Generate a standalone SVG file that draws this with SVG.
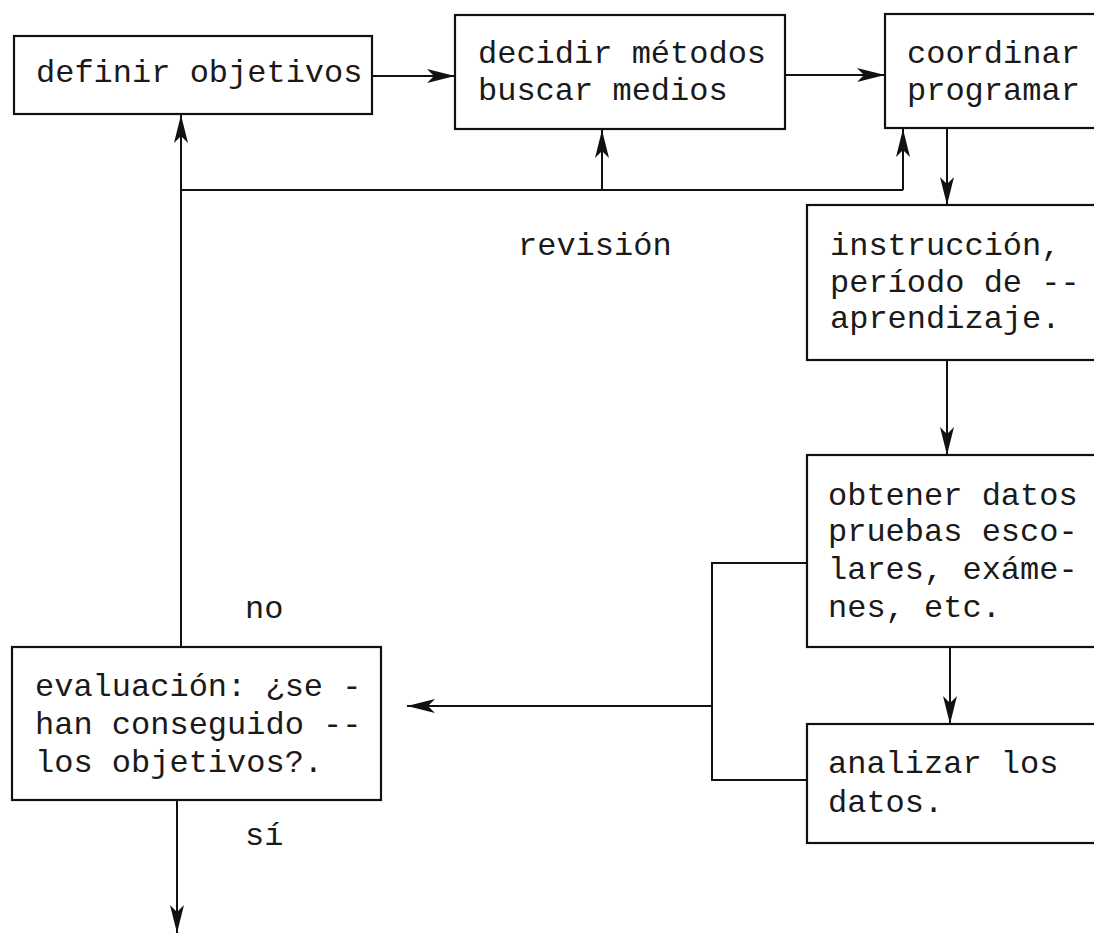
<svg xmlns="http://www.w3.org/2000/svg" width="1094" height="934" viewBox="0 0 1094 934">
<style>
.box{fill:none;stroke:#111;stroke-width:2.2}
.ln{fill:none;stroke:#111;stroke-width:2}
.t{font-family:"Liberation Mono","Courier New",monospace;font-size:32px;fill:#1a1a1a}
</style>
<defs>
<marker id="ah" markerUnits="userSpaceOnUse" markerWidth="30" markerHeight="14" refX="28" refY="7" orient="auto">
<path d="M0,0 L28,7 L0,14 L7,7 Z" fill="#111"/>
</marker>
</defs>
<rect width="1094" height="934" fill="#fff"/>
<g id="connectors">
<line class="ln" x1="372" y1="76" x2="455" y2="76" marker-end="url(#ah)"/>
<line class="ln" x1="785" y1="75" x2="885" y2="75" marker-end="url(#ah)"/>
<polyline class="ln" points="181,647 181,190 903,190"/>
<line class="ln" x1="181" y1="190" x2="181" y2="115" marker-end="url(#ah)"/>
<line class="ln" x1="602" y1="190" x2="602" y2="130" marker-end="url(#ah)"/>
<line class="ln" x1="903" y1="190" x2="903" y2="129" marker-end="url(#ah)"/>
<line class="ln" x1="947" y1="128" x2="947" y2="205" marker-end="url(#ah)"/>
<line class="ln" x1="947" y1="360" x2="947" y2="455" marker-end="url(#ah)"/>
<line class="ln" x1="950" y1="647" x2="950" y2="724" marker-end="url(#ah)"/>
<polyline class="ln" points="807,563 712,563 712,780 807,780"/>
<line class="ln" x1="712" y1="706" x2="407" y2="706" marker-end="url(#ah)"/>
<line class="ln" x1="177" y1="800" x2="177" y2="933" marker-end="url(#ah)"/>
</g>
<g id="definir">
<rect class="box" x="14" y="36" width="358" height="78"/>
<text class="t" x="36" y="82">definir objetivos</text>
</g>
<g id="decidir">
<rect class="box" x="455" y="15" width="330" height="114"/>
<text class="t" x="478" y="63">decidir métodos</text>
<text class="t" x="478" y="100">buscar medios</text>
</g>
<g id="coordinar">
<rect class="box" x="885" y="14" width="230" height="114"/>
<text class="t" x="907" y="63">coordinar</text>
<text class="t" x="907" y="100">programar</text>
</g>
<g id="revision">
<text class="t" x="518" y="255">revisión</text>
</g>
<g id="instruccion">
<rect class="box" x="807" y="205" width="310" height="155"/>
<text class="t" x="830" y="255">instrucción,</text>
<text class="t" x="830" y="292">período de --</text>
<text class="t" x="830" y="328">aprendizaje.</text>
</g>
<g id="obtener">
<rect class="box" x="807" y="455" width="310" height="192"/>
<text class="t" x="828" y="505">obtener datos</text>
<text class="t" x="828" y="541">pruebas esco-</text>
<text class="t" x="828" y="579">lares, exáme-</text>
<text class="t" x="828" y="617">nes, etc.</text>
</g>
<g id="analizar">
<rect class="box" x="807" y="724" width="310" height="119"/>
<text class="t" x="828" y="773">analizar los</text>
<text class="t" x="828" y="812">datos.</text>
</g>
<g id="evaluacion">
<rect class="box" x="12" y="647" width="369" height="153"/>
<text class="t" x="35" y="696">evaluación: ¿se -</text>
<text class="t" x="35" y="734">han conseguido --</text>
<text class="t" x="35" y="772">los objetivos?.</text>
</g>
<g id="labels">
<text class="t" x="245" y="618">no</text>
<text class="t" x="245" y="845">sí</text>
</g>
</svg>
